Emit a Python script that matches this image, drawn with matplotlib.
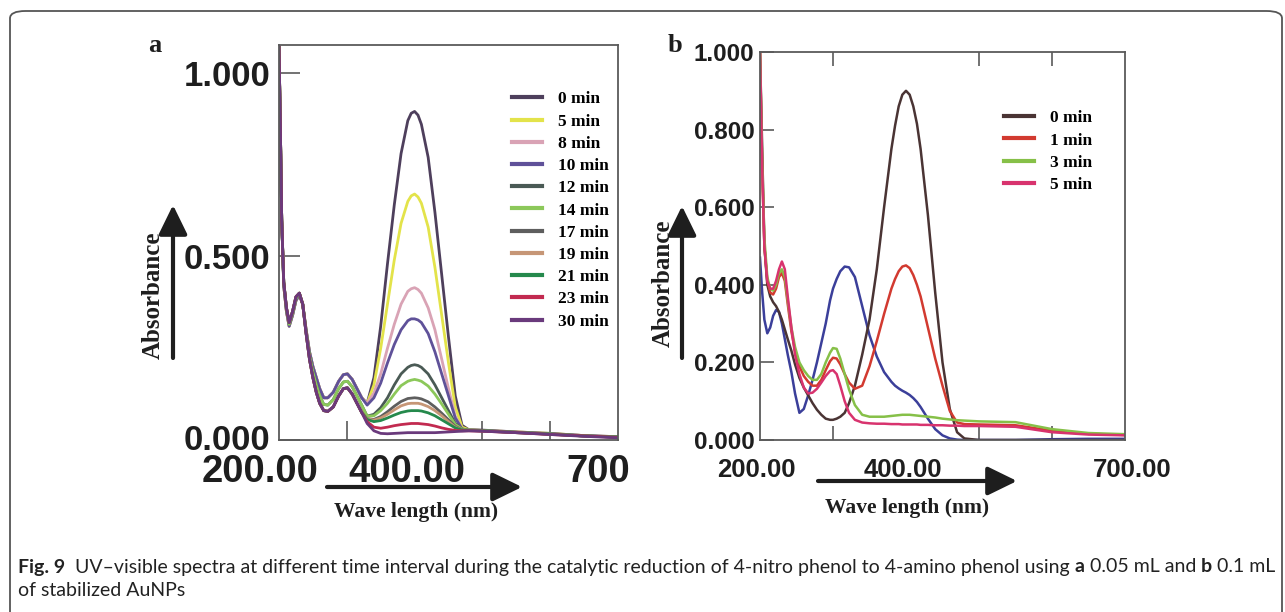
import matplotlib
matplotlib.use("Agg")
import matplotlib.pyplot as plt
import matplotlib.transforms as mtransforms
from matplotlib.patches import FancyBboxPatch, FancyArrowPatch

# wavelength grids (nm)
wl_a = [200, 202, 204, 207, 211, 215, 220, 225, 230, 235, 240, 245, 250, 255, 260, 266, 272, 280, 288, 295, 301, 308, 315, 322,
        330, 340, 350, 360, 370, 380, 390, 395, 400, 405, 410, 420, 430, 440, 450, 460, 470, 480, 500, 550, 600, 650, 700]

# panel a: short-wavelength part (200-322 nm), shared by groups of curves
left_top = [1.07, 0.85, 0.60, 0.42, 0.35, 0.31, 0.34, 0.38, 0.395, 0.37, 0.30, 0.24, 0.20, 0.17, 0.14, 0.115, 0.115, 0.13, 0.16, 0.178, 0.18, 0.165, 0.14, 0.115]
left_mid = [1.07, 0.85, 0.60, 0.43, 0.355, 0.315, 0.345, 0.385, 0.40, 0.37, 0.295, 0.23, 0.185, 0.15, 0.12, 0.097, 0.095, 0.11, 0.14, 0.158, 0.16, 0.145, 0.12, 0.095]
left_low = [1.07, 0.85, 0.60, 0.43, 0.36, 0.32, 0.35, 0.39, 0.40, 0.37, 0.29, 0.22, 0.17, 0.13, 0.10, 0.08, 0.078, 0.09, 0.12, 0.14, 0.142, 0.125, 0.10, 0.075]

# panel a: 330-700 nm part, one per time
p0 = [0.10, 0.17, 0.31, 0.48, 0.64, 0.78, 0.87, 0.89, 0.895, 0.885, 0.86, 0.77, 0.62, 0.45, 0.28, 0.12, 0.04, 0.028, 0.027, 0.022, 0.018, 0.012, 0.008]
p5 = [0.10, 0.15, 0.25, 0.37, 0.49, 0.59, 0.65, 0.665, 0.67, 0.662, 0.645, 0.58, 0.47, 0.34, 0.21, 0.09, 0.035, 0.028, 0.026, 0.022, 0.018, 0.012, 0.009]
p8 = [0.10, 0.128, 0.18, 0.25, 0.315, 0.37, 0.405, 0.412, 0.415, 0.41, 0.40, 0.36, 0.30, 0.22, 0.14, 0.065, 0.03, 0.027, 0.026, 0.022, 0.017, 0.012, 0.009]
p10 = [0.095, 0.115, 0.155, 0.21, 0.26, 0.30, 0.325, 0.33, 0.33, 0.327, 0.32, 0.29, 0.24, 0.18, 0.12, 0.06, 0.03, 0.027, 0.026, 0.021, 0.017, 0.012, 0.009]
p12 = [0.065, 0.07, 0.088, 0.115, 0.15, 0.18, 0.198, 0.203, 0.205, 0.203, 0.198, 0.18, 0.15, 0.115, 0.08, 0.045, 0.03, 0.027, 0.026, 0.021, 0.017, 0.011, 0.008]
p14 = [0.065, 0.066, 0.08, 0.10, 0.125, 0.148, 0.16, 0.163, 0.165, 0.163, 0.16, 0.147, 0.125, 0.098, 0.07, 0.042, 0.03, 0.027, 0.025, 0.021, 0.016, 0.011, 0.008]
p17 = [0.058, 0.056, 0.064, 0.077, 0.092, 0.105, 0.113, 0.114, 0.115, 0.114, 0.112, 0.104, 0.09, 0.073, 0.055, 0.037, 0.028, 0.026, 0.025, 0.021, 0.016, 0.011, 0.008]
p19 = [0.058, 0.054, 0.06, 0.07, 0.082, 0.093, 0.099, 0.10, 0.10, 0.10, 0.098, 0.091, 0.08, 0.066, 0.05, 0.035, 0.027, 0.026, 0.025, 0.02, 0.016, 0.011, 0.008]
p21 = [0.056, 0.05, 0.053, 0.06, 0.068, 0.075, 0.079, 0.08, 0.08, 0.08, 0.079, 0.074, 0.066, 0.055, 0.044, 0.033, 0.027, 0.026, 0.025, 0.02, 0.016, 0.011, 0.008]
p23 = [0.05, 0.035, 0.032, 0.035, 0.039, 0.042, 0.044, 0.045, 0.045, 0.045, 0.044, 0.042, 0.038, 0.033, 0.029, 0.026, 0.025, 0.025, 0.024, 0.02, 0.015, 0.011, 0.007]
p30 = [0.045, 0.025, 0.018, 0.017, 0.018, 0.019, 0.02, 0.02, 0.02, 0.02, 0.02, 0.02, 0.02, 0.021, 0.022, 0.023, 0.024, 0.025, 0.024, 0.02, 0.015, 0.01, 0.006]

labels_a = ['0 min', '5 min', '8 min', '10 min', '12 min', '14 min', '17 min', '19 min', '21 min', '23 min', '30 min']
colors_a = ['#4e3f5c', '#e3e34a', '#d9a3b5', '#5f5199', '#4a5a55', '#8cc85a', '#5e5e5e', '#c69676', '#25894c', '#c22a50', '#6a3a7c']
series_a = [left_top + p0, left_top + p5, left_top + p8, left_top + p10,
            left_mid + p12, left_mid + p14,
            left_low + p17, left_low + p19, left_low + p21, left_low + p23, left_low + p30]

# panel b
wl_b = [200, 203, 206, 210, 214, 218, 222, 226, 230, 234, 238,
        243, 248, 254, 260, 266, 272, 278, 284, 290, 296,
        300, 305, 310, 316, 322,
        330, 340, 350, 360, 370, 380, 385, 390, 395, 400, 405, 410, 415, 420, 430, 440, 450, 460, 470, 480,
        500, 550, 600, 650, 700]
b0 = [1.0, 0.75, 0.50, 0.40, 0.37, 0.355, 0.345, 0.33, 0.31, 0.285, 0.26,
      0.23, 0.195, 0.16, 0.135, 0.115, 0.095, 0.078, 0.065, 0.055, 0.052,
      0.052, 0.055, 0.06, 0.07, 0.095,
      0.14, 0.22, 0.31, 0.44, 0.60, 0.75, 0.81, 0.86, 0.89, 0.90, 0.89, 0.86, 0.815, 0.75, 0.58, 0.38, 0.20, 0.08, 0.02, 0.004,
      0.0, 0.0, 0.0, 0.0, 0.0]
b1 = [1.0, 0.70, 0.50, 0.41, 0.38, 0.375, 0.39, 0.42, 0.43, 0.41, 0.35,
      0.28, 0.23, 0.19, 0.165, 0.15, 0.14, 0.14, 0.155, 0.18, 0.203,
      0.212, 0.21, 0.195, 0.17, 0.148,
      0.132, 0.14, 0.19, 0.255, 0.325, 0.39, 0.415, 0.435, 0.447, 0.45, 0.443, 0.425, 0.40, 0.37, 0.29, 0.21, 0.14, 0.075, 0.045, 0.041,
      0.04, 0.038, 0.024, 0.016, 0.013]
b3 = [1.0, 0.72, 0.52, 0.42, 0.39, 0.385, 0.40, 0.43, 0.44, 0.42, 0.36,
      0.29, 0.24, 0.20, 0.18, 0.165, 0.155, 0.155, 0.17, 0.20, 0.225,
      0.237, 0.235, 0.21, 0.17, 0.13,
      0.09, 0.065, 0.06, 0.06, 0.06, 0.062, 0.063, 0.064, 0.065, 0.065, 0.065, 0.064, 0.063, 0.062, 0.06, 0.058, 0.055, 0.053, 0.051, 0.05,
      0.048, 0.046, 0.028, 0.018, 0.015]
b5 = [1.0, 0.70, 0.50, 0.41, 0.39, 0.39, 0.41, 0.44, 0.46, 0.44, 0.37,
      0.29, 0.22, 0.17, 0.135, 0.12, 0.122, 0.132, 0.148, 0.165, 0.178,
      0.18, 0.17, 0.14, 0.10, 0.07,
      0.052, 0.045, 0.043, 0.042, 0.042, 0.041, 0.041, 0.041, 0.04, 0.04, 0.04, 0.04, 0.04, 0.039, 0.039, 0.038, 0.038, 0.037, 0.037, 0.036,
      0.036, 0.034, 0.02, 0.014, 0.012]
b_blue = [0.47, 0.38, 0.31, 0.275, 0.29, 0.32, 0.335, 0.33, 0.30, 0.26, 0.22,
          0.175, 0.12, 0.07, 0.08, 0.115, 0.155, 0.20, 0.25, 0.30, 0.36,
          0.39, 0.415, 0.435, 0.447, 0.445,
          0.42, 0.345, 0.27, 0.215, 0.175, 0.15, 0.14, 0.133, 0.127, 0.122, 0.116, 0.108, 0.098, 0.085, 0.055, 0.028, 0.012, 0.004, 0.001, 0.0,
          0.0, 0.0, 0.002, 0.003, 0.003]
labels_b = ['0 min', '1 min', '3 min', '5 min']
colors_b = ['#4a3434', '#d23a30', '#86c048', '#d8336e']
series_b = [b0, b1, b3, b5]

W, H = 1285, 612
fig = plt.figure(figsize=(W / 100, H / 100), dpi=100)

serif = ['Liberation Serif', 'DejaVu Serif']
sans = ['Liberation Sans', 'DejaVu Sans']
ink = '#1e1e1e'
spine_c = '#5a5a5a'


def box(l, t, r, b):
    # pixel box (from top-left) -> figure fraction rect
    return [l / W, 1 - b / H, (r - l) / W, (b - t) / H]


def shift(lab, dx, dy=0):
    lab.set_transform(lab.get_transform() + mtransforms.ScaledTranslation(dx / 100, dy / 100, fig.dpi_scale_trans))


# ---- panel a ----
ax1 = fig.add_axes(box(279, 45, 618, 440))
for y, lab, c in zip(series_a, labels_a, colors_a):
    ax1.plot(wl_a, y, color=c, lw=2.0, label=lab)
ax1.set_xlim(200, 700)
ax1.set_ylim(0, 1.076)
for s in ax1.spines.values():
    s.set_color(spine_c)
    s.set_linewidth(1.3)
ax1.set_yticks([0, 0.5, 1.0])
ax1.set_yticklabels(['0.000', '0.500', '1.000'], family=sans, weight='bold', fontsize=25, color=ink)
ax1.tick_params(axis='y', direction='in', length=15, width=1.2, color=spine_c, pad=6)
shift(ax1.get_yticklabels()[0], 0, 3)
ax1.set_xticks([200, 400, 700])
ax1.set_xticklabels(['200.00', '400.00', '700'], family=sans, weight='bold', fontsize=27.5, color=ink)
ax1.set_xticks([300, 400, 500, 600], minor=True)
ax1.tick_params(axis='x', which='major', length=0, pad=10)
ax1.tick_params(axis='x', which='minor', direction='in', length=14, width=1.2, color=spine_c)
for lab, dx in zip(ax1.get_xticklabels(), [-19, -8, -20]):
    shift(lab, dx)
ax1.legend(loc='upper left', bbox_to_anchor=(0.662, 0.905), frameon=False, borderpad=0,
           prop={'family': serif, 'weight': 'bold', 'size': 12.5},
           handlelength=1.7, handletextpad=0.95, labelspacing=0.35)
for line in ax1.get_legend().get_lines():
    line.set_linewidth(3)

# ---- panel b ----
ax2 = fig.add_axes(box(760, 52, 1125, 440))
ax2.plot(wl_b, b_blue, color='#3b3f9a', lw=1.8)
for y, lab, c in zip(series_b, labels_b, colors_b):
    ax2.plot(wl_b, y, color=c, lw=1.8, label=lab)
ax2.set_xlim(200, 700)
ax2.set_ylim(0, 1.0)
for s in ax2.spines.values():
    s.set_color(spine_c)
    s.set_linewidth(1.3)
ax2.set_yticks([0, 0.2, 0.4, 0.6, 0.8, 1.0])
ax2.set_yticklabels(['0.000', '0.200', '0.400', '0.600', '0.800', '1.000'], family=sans, weight='bold', fontsize=17.5, color=ink)
ax2.tick_params(axis='y', direction='in', length=10, width=1.2, color=spine_c, pad=4)
ax2.set_xticks([200, 400, 700])
ax2.set_xticklabels(['200.00', '400.00', '700.00'], family=sans, weight='bold', fontsize=18.5, color=ink)
ax2.set_xticks([300, 400, 500, 600], minor=True)
ax2.tick_params(axis='x', which='major', length=0, pad=13)
ax2.tick_params(axis='x', which='minor', direction='in', length=10, width=1.2, color=spine_c, top=True)
for lab, dx in zip(ax2.get_xticklabels(), [-4, -3, 7]):
    shift(lab, dx)
ax2.legend(loc='upper left', bbox_to_anchor=(0.646, 0.873), frameon=False, borderpad=0,
           prop={'family': serif, 'weight': 'bold', 'size': 12.5},
           handlelength=1.7, handletextpad=0.95, labelspacing=0.36)
for line in ax2.get_legend().get_lines():
    line.set_linewidth(3)

# ---- axis titles and arrows ----
arrow = dict(arrowstyle='-|>,head_length=0.45,head_width=0.22', lw=3, color=ink, mutation_scale=40, shrinkA=0, shrinkB=0)


def fig_arrow(x1, y1, x2, y2):
    fig.add_artist(FancyArrowPatch((x1 / W, 1 - y1 / H), (x2 / W, 1 - y2 / H),
                                   transform=fig.transFigure, **arrow))


fig.text(153 / W, 1 - 295 / H, 'Absorbance', rotation=90, ha='center', va='center',
         family=serif, weight='bold', fontsize=18, color=ink)
fig_arrow(173, 358, 173, 205)
fig.text(663 / W, 1 - 283 / H, 'Absorbance', rotation=90, ha='center', va='center',
         family=serif, weight='bold', fontsize=18, color=ink)
fig_arrow(682, 358, 682, 206)

fig_arrow(327, 487, 522, 487)
fig.text(416 / W, 1 - 512 / H, 'Wave length (nm)', ha='center', va='center',
         family=serif, weight='bold', fontsize=15.5, color=ink)
fig_arrow(818, 481, 1017, 481)
fig.text(907 / W, 1 - 508 / H, 'Wave length (nm)', ha='center', va='center',
         family=serif, weight='bold', fontsize=15.5, color=ink)

fig.text(155 / W, 1 - 45 / H, 'a', ha='center', va='center', family=serif, weight='bold', fontsize=19, color=ink)
fig.text(675 / W, 1 - 45 / H, 'b', ha='center', va='center', family=serif, weight='bold', fontsize=19, color=ink)

# ---- frame and caption ----
fig.add_artist(FancyBboxPatch((10 / W, -0.1), 1272 / W, 1.1 - 11 / H, transform=fig.transFigure,
                              boxstyle='round,pad=0,rounding_size=0.012', fill=False, ec='#555555', lw=1.3))

renderer = fig.canvas.get_renderer()


def text_runs(x, y, runs, size):
    for s, w in runs:
        t = fig.text(x, y, s, weight=w, family=['Lato', 'DejaVu Sans'], fontsize=size,
                     va='center', ha='left', color='#222222')
        x += t.get_window_extent(renderer=renderer).width / W


cap_size = 14.0
text_runs(18 / W, 1 - 567 / H, [('Fig. 9', 'bold'),
                                ('  UV–visible spectra at different time interval during the catalytic reduction of 4-nitro phenol to 4-amino phenol using ', 'normal'),
                                ('a', 'bold'), (' 0.05 mL and ', 'normal'), ('b', 'bold'), (' 0.1 mL', 'normal')], cap_size)
text_runs(18 / W, 1 - 590 / H, [('of stabilized AuNPs', 'normal')], cap_size)

fig.savefig('out.png', dpi=100)
